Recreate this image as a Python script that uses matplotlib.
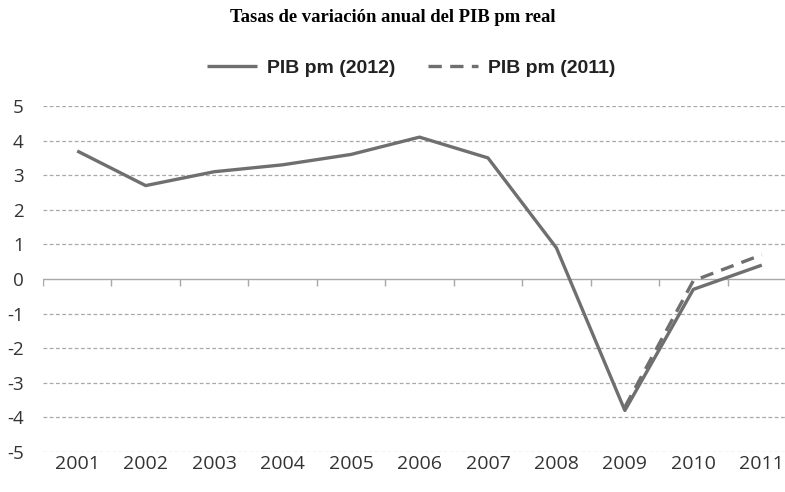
import matplotlib
matplotlib.use("Agg")
import matplotlib.pyplot as plt
import numpy as np

years = ["2001", "2002", "2003", "2004", "2005", "2006", "2007", "2008", "2009", "2010", "2011"]
pib_2012 = [3.7, 2.7, 3.1, 3.3, 3.6, 4.1, 3.5, 0.9, -3.8, -0.3, 0.4]
pib_2011 = [None, None, None, None, None, None, None, None, -3.7, -0.05, 0.7]
yticks = [-5, -4, -3, -2, -1, 0, 1, 2, 3, 4, 5]

W, H = 785, 492
fig = plt.figure(figsize=(W / 100, H / 100), dpi=100)
ax = fig.add_axes([43 / W, 1 - 452 / H, (796 - 43) / W, (452 - 106) / H])

x = np.arange(len(years))
line_col = "#6f6f6f"
ax.plot(x, pib_2012, color=line_col, lw=2.4, solid_capstyle="butt", label="PIB pm (2012)", zorder=3)
y11 = np.array([np.nan if v is None else v for v in pib_2011], dtype=float)
ax.plot(x, y11, color=line_col, lw=2.4, ls=(0, (4, 2.5)), label="PIB pm (2011)", zorder=3)

ax.set_ylim(-5, 5)
ax.set_xlim(-0.5, len(years) - 0.5)
ax.set_yticks(yticks)
ax.set_yticklabels([str(v) for v in yticks])
for v in yticks:
    if v != 0:
        ax.axhline(v, color="#a8a8a8", lw=0.9, ls=(0, (3, 2)), zorder=1)
ax.axhline(0, color="#a8a8a8", lw=1.0, zorder=2)
bounds = np.arange(len(years) + 1) - 0.5
ax.vlines(bounds, -0.2, 0, color="#a8a8a8", lw=1.0, zorder=2)

ax.set_xticks(x)
ax.set_xticklabels(years)
for s in ax.spines.values():
    s.set_visible(False)
ax.tick_params(axis="both", length=0, labelsize=14, colors="#333333")
ax.tick_params(axis="y", labelsize=13.5, pad=14)
ax.tick_params(axis="x", pad=2)
for lab in ax.get_xticklabels() + ax.get_yticklabels():
    lab.set_fontfamily("Open Sans")

fig.text(0.5, 1 - 18 / H, "Tasas de variación anual del PIB pm real", ha="center", va="center",
         fontsize=13.4, fontweight="bold", family="Liberation Serif", color="#000000")

leg = fig.legend(loc="center", bbox_to_anchor=(411 / W, 1 - 68 / H), ncol=2, frameon=False,
                 prop={"family": "Liberation Sans", "weight": "bold", "size": 14},
                 handlelength=2.6, columnspacing=1.65, handletextpad=0.5)
for t in leg.get_texts():
    t.set_color("#222222")

fig.savefig("out.png", dpi=100)
